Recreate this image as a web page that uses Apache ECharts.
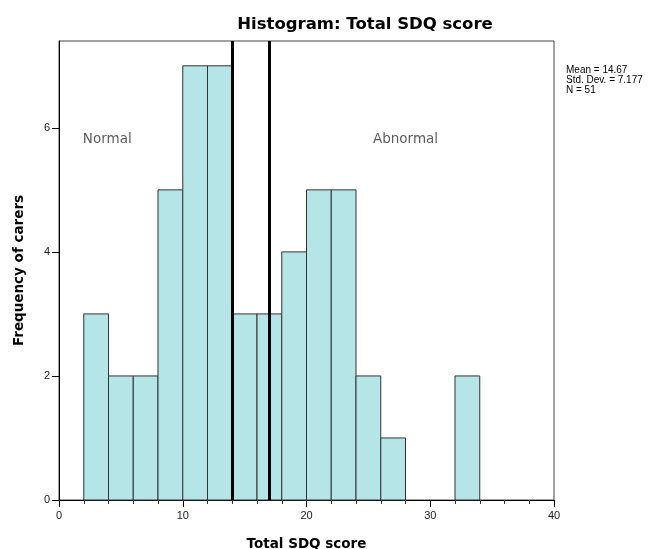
<!DOCTYPE html>
<html><head><meta charset="utf-8">
<script src="https://cdn.jsdelivr.net/npm/echarts@6/dist/echarts.min.js"></script>
<style>html,body{margin:0;padding:0;background:#fff}#c{width:662px;height:549px}</style>
</head><body><div id="c"></div>
<script>
const binStarts = [2,4,6,8,10,12,14,16,18,20,22,24,26,28,30,32];
const binWidth = 2;
const counts = [3,2,2,5,7,7,3,3,4,5,5,2,1,0,0,2];
const cutoffs = [14, 17];
const xTicks = [0,10,20,30,40];
const yTicks = [0,2,4,6];
const statsLines = ['Mean = 14.67','Std. Dev. = 7.177','N = 51'];
const regionLabels = [{text:'Normal', x:3.9, y:5.82},{text:'Abnormal', x:28.0, y:5.82}];

const FONT = 'Liberation Sans, Arial, sans-serif';
const BOLD = 'DejaVu Sans, Liberation Sans, sans-serif';
const chart = echarts.init(document.getElementById('c'));
const data = binStarts.map((s,i)=>[s, s+binWidth, counts[i]]).filter(d=>d[2]>0);
chart.setOption({
  animation:false,
  title:{text:'Histogram: Total SDQ score', left:360, top:11, textAlign:'center',
    textStyle:{fontFamily:BOLD,fontSize:16.5,fontWeight:'bold',color:'#000'}},
  grid:{left:59,right:108,top:41,bottom:49,show:true,borderColor:'#444',borderWidth:1,backgroundColor:'#fff',
    outerBoundsMode:'none',containLabel:false},
  xAxis:{type:'value',min:0,max:40,interval:10,
    name:'Total SDQ score',nameLocation:'middle',nameGap:37,
    nameTextStyle:{fontFamily:BOLD,fontSize:13.5,fontWeight:'bold',color:'#000'},
    axisLine:{show:true,lineStyle:{color:'#000',width:1}},
    axisTick:{show:true,length:7,lineStyle:{color:'#000'}},
    minorTick:{show:true,splitNumber:5,length:4,lineStyle:{color:'#333'}},
    axisLabel:{fontFamily:FONT,fontSize:11,color:'#222',margin:10},
    splitLine:{show:false}},
  yAxis:{type:'value',min:0,max:7.4,interval:2,
    name:'Frequency of carers',nameLocation:'middle',nameGap:33,
    nameTextStyle:{fontFamily:BOLD,fontSize:13.5,fontWeight:'bold',color:'#000'},
    axisLine:{show:true,lineStyle:{color:'#000',width:1}},
    axisTick:{show:true,length:7,lineStyle:{color:'#000'}},
    axisLabel:{fontFamily:FONT,fontSize:11,color:'#222',margin:9,showMaxLabel:false,
      formatter:v=>yTicks.includes(v)?String(v):''},
    splitLine:{show:false}},
  series:[{
    type:'custom',
    data:data,
    renderItem:function(params,api){
      const p0 = api.coord([api.value(0), api.value(2)]);
      const p1 = api.coord([api.value(1), 0]);
      return {type:'rect',shape:{x:p0[0],y:p0[1],width:p1[0]-p0[0],height:p1[1]-p0[1]},
        style:{fill:'#b5e5e7',stroke:'#333',lineWidth:1}};
    },
    encode:{x:[0,1],y:2},
    markLine:{silent:true,symbol:'none',label:{show:false},
      lineStyle:{color:'#000',width:3,type:'solid'},
      data:cutoffs.map(c=>({xAxis:c}))}
  },{
    type:'scatter',symbolSize:0,
    data:regionLabels.map(r=>({value:[r.x,r.y],name:r.text})),
    label:{show:true,formatter:p=>p.name,position:'inside',fontFamily:'DejaVu Sans, sans-serif',fontSize:13.5,color:'#333'},
    silent:true
  }],
  graphic:[{type:'text',left:566,top:65,style:{text:statsLines.join('\n'),
    font:'10px "Liberation Sans Narrow", "Liberation Sans", Arial, sans-serif',lineHeight:10,fill:'#000'}}]
});
</script></body></html>
